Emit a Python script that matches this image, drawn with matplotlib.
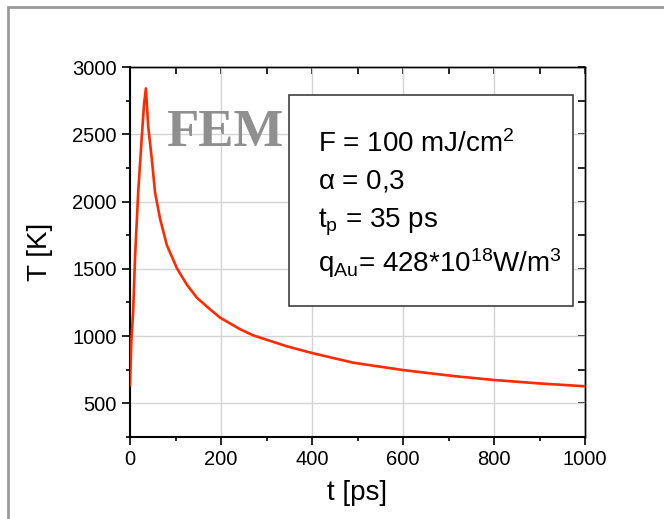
import numpy as np
import matplotlib
matplotlib.use('Agg')
import matplotlib.pyplot as plt
from matplotlib.patches import Rectangle

plt.rcParams['font.family'] = ['Liberation Sans', 'DejaVu Sans']
plt.rcParams['mathtext.fontset'] = 'custom'
plt.rcParams['mathtext.rm'] = 'Liberation Sans'
plt.rcParams['mathtext.it'] = 'Liberation Sans:italic'
plt.rcParams['mathtext.default'] = 'regular'

# Temperature vs time
t_ps = [0, 3, 7, 11, 18, 26, 31, 35, 40, 48, 55, 66, 81, 103, 125, 147, 176,
        198, 242, 271, 344, 399, 491, 601, 711, 799, 900, 1000]
T_K = [635, 966, 1187, 1579, 2069, 2485, 2731, 2841, 2559, 2314, 2069, 1873,
       1676, 1505, 1382, 1285, 1199, 1137, 1051, 1005, 925, 875, 802, 747,
       703, 674, 648, 627]

x_ticks = [0, 200, 400, 600, 800, 1000]
y_ticks = [500, 1000, 1500, 2000, 2500, 3000]
params = [r'F = 100 mJ/cm$^2$',
          r'$\alpha$ = 0,3',
          r't$_p$ = 35 ps',
          r'q$_{Au}$= 428*10$^{18}$W/m$^3$']

fig = plt.figure(figsize=(6.64, 5.19), dpi=100)
ax = fig.add_axes([130/664, 1 - 437/519, 455/664, 370/519])

ax.plot(t_ps, T_K, color='#ff2a00', lw=1.9, zorder=3, solid_joinstyle='round')

ax.set_xlim(0, 1000)
ax.set_ylim(275, 3000)
ax.set_xticks(x_ticks)
ax.set_xticks(np.arange(0, 1001, 100), minor=True)
ax.set_yticks(y_ticks)
ax.set_yticks(np.arange(250, 3001, 250), minor=True)
ax.grid(True, which='major', color='#d4d4d4', lw=1.0)
ax.set_axisbelow(True)

ax.spines['left'].set_linewidth(1.5)
ax.spines['bottom'].set_linewidth(1.5)
ax.spines['top'].set_linewidth(1.0)
ax.spines['right'].set_linewidth(1.0)
ax.tick_params(which='major', direction='out', length=6, width=1.2, labelsize=14.5)
ax.tick_params(which='minor', direction='out', length=3, width=1.2)

# mirrored inward ticks on top and right
top = ax.secondary_xaxis('top')
top.set_xticks(np.arange(0, 1001, 100))
top.tick_params(direction='in', length=5, width=1.2, labeltop=False)
top.spines['top'].set_linewidth(1.0)
right = ax.secondary_yaxis('right')
right.set_yticks(np.arange(250, 3001, 250))
right.tick_params(direction='in', length=5, width=1.2, labelright=False)
right.spines['right'].set_linewidth(1.0)

ax.set_xlabel('t [ps]', fontsize=20, labelpad=8)
ax.set_ylabel('T [K]', fontsize=20, labelpad=14)

ax.text(80, 2510, 'FEM', family=['Liberation Serif'], weight='bold',
        fontsize=38, color='#8f8f8f', va='center', ha='left')

# parameter box
box = Rectangle((289/664, 1 - 306/519), 284/664, 211/519, transform=fig.transFigure,
                facecolor='white', edgecolor='#404040', lw=1.2, zorder=5)
fig.add_artist(box)
baselines = [152, 189, 227, 272]
for txt, yb in zip(params, baselines):
    fig.text(318/664, 1 - yb/519, txt, fontsize=20, ha='left', va='baseline', zorder=6)

# outer gray frame
frame = Rectangle((8/664, -0.1), 1.2, 1.1 - 7/519, transform=fig.transFigure,
                  facecolor='none', edgecolor='#9a9a9a', lw=2.0)
fig.add_artist(frame)

fig.savefig('out.png', dpi=100)
